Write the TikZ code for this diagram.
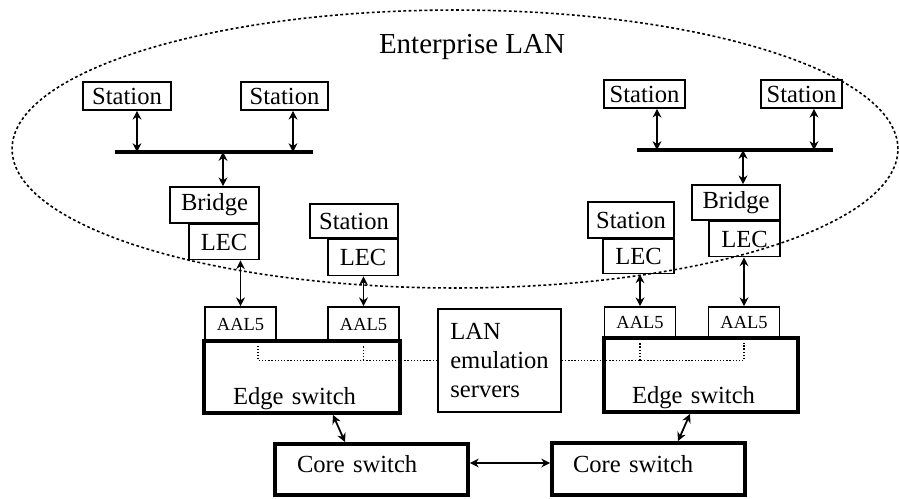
\documentclass[tikz,border=0pt]{standalone}
\usepackage{fontspec}
\setmainfont{Liberation Serif}
\usepackage{tikz}
\usetikzlibrary{arrows.meta, positioning, calc}

\tikzset{
  box/.style={draw, line width=0.9pt, inner sep=0pt, font=\fontsize{14}{16.5}\selectfont},
  aal/.style={box, font=\fontsize{10.5}{12}\selectfont},
  swbox/.style={draw, line width=2.2pt, inner ysep=0pt, align=left, font=\fontsize{14}{16.5}\selectfont},
  conn/.style={{Stealth[length=5pt,width=5pt]}-{Stealth[length=5pt,width=5pt]}, line width=1pt},
  bus/.style={line width=2.4pt},
  lesline/.style={densely dotted, line width=0.8pt},
  lanline/.style={dash pattern=on 1.6pt off 1.4pt, line width=0.9pt}
}

\begin{document}
\begin{tikzpicture}[x=0.02cm, y=-0.02cm]
  \useasboundingbox (0,0) rectangle (899,498);
  % Enterprise LAN
  \draw[lanline] (455,149) ellipse [x radius=8.86cm, y radius=2.78cm];
  \node[font=\fontsize{16.5}{18}\selectfont] (title) at (472,47) {Enterprise LAN};
  % Stations on the two segments
  \foreach \n/\x/\y/\w in {st1/127/96/1.76, st2/284.5/96/1.74, st3/644.5/94/1.62, st4/801.5/94/1.62}
    \node[box, minimum width=\w cm, minimum height=0.56cm] (\n) at (\x,\y) {Station};
  % Buses
  \coordinate (bus1w) at (115,152);
  \coordinate (bus1e) at (313,152);
  \coordinate (bus2w) at (637,150);
  \coordinate (bus2e) at (833,150);
  \draw[bus] (bus1w) -- (bus1e);
  \draw[bus] (bus2w) -- (bus2e);
  % Bridges and stations with their LECs
  \node[box, minimum width=1.78cm, minimum height=0.72cm] (br1) at (214.5,205) {Bridge};
  \node[box, minimum width=1.4cm, minimum height=0.7cm, anchor=north east] (lec1) at (br1.south east) {LEC};
  \node[box, minimum width=1.76cm, minimum height=0.68cm] (st5) at (354,221) {Station};
  \node[box, minimum width=1.4cm, minimum height=0.72cm, anchor=north east] (lec2) at (st5.south east) {LEC};
  \node[box, minimum width=1.72cm, minimum height=0.72cm] (st6) at (631,220) {Station};
  \node[box, minimum width=1.42cm, minimum height=0.68cm, anchor=north east] (lec3) at (st6.south east) {LEC};
  \node[box, minimum width=1.76cm, minimum height=0.70cm] (br2) at (736,202.5) {Bridge};
  \node[box, minimum width=1.42cm, minimum height=0.7cm, anchor=north east] (lec4) at (br2.south east) {LEC};
  % AAL5
  \foreach \n/\x/\y/\h in {aal1/240.5/324/0.68, aal2/363.5/324/0.68, aal3/640/322.5/0.62, aal4/744/322.5/0.62}
    \node[aal, minimum width=1.42cm, minimum height=\h cm] (\n) at (\x,\y) {AAL5};
  % Edge switches
  \node[swbox, text width=2.76cm, inner xsep=0.58cm, text height=1.26cm, text depth=0.18cm] (edge1) at (302,377) {Edge switch};
  \node[swbox, text width=2.76cm, inner xsep=0.56cm, text height=1.30cm, text depth=0.18cm] (edge2) at (701,375) {Edge switch};
  % LAN emulation servers
  \node[box, minimum width=2.46cm, minimum height=2.06cm, align=left] (les) at (499.5,360.5) {LAN\\emulation\\servers};
  % Core switches
  \node[swbox, text width=2.98cm, inner xsep=0.44cm, text height=0.56cm, text depth=0.46cm] (core1) at (371.5,469.5) {Core switch};
  \node[swbox, text width=3.02cm, inner xsep=0.42cm, text height=0.58cm, text depth=0.46cm] (core2) at (648.5,469) {Core switch};
  % Connectors
  \foreach \n/\b/\s in {st1/bus1w/0.2, st2/bus1w/0.17, st3/bus2w/0.25, st4/bus2w/0.25}
    \draw[conn] ([xshift=\s cm]\n.south) -- ([xshift=\s cm]\n.south |- \b);
  \draw[conn] ([xshift=0.17cm]br1.north |- bus1w) -- ([xshift=0.17cm]br1.north);
  \draw[conn] ([xshift=0.14cm]br2.north |- bus2w) -- ([xshift=0.14cm]br2.north);
  \foreach \l/\a in {lec1/aal1, lec2/aal2, lec3/aal3, lec4/aal4}
    \draw[conn] (\a.north |- \l.south) -- (\a.north);
  \draw[conn] ([xshift=0.62cm]edge1.south) -- ([xshift=-0.53cm]core1.north);
  \draw[conn] ([xshift=-0.22cm]edge2.south) -- ([xshift=0.59cm]core2.north);
  \draw[conn] ([yshift=0.13cm]core1.east) -- ([yshift=0.13cm]core1.east -| core2.west);
  % Emulation server links
  \draw[lesline] (les.west) -| ([xshift=0.35cm, yshift=-0.08cm]aal1.south);
  \draw[lesline] (aal2.south |- les.west) -- ([yshift=-0.08cm]aal2.south);
  \draw[lesline] (les.east) -| ([yshift=-0.08cm]aal4.south);
  \draw[lesline] (aal3.south |- les.east) -- ([yshift=-0.08cm]aal3.south);
\end{tikzpicture}
\end{document}
